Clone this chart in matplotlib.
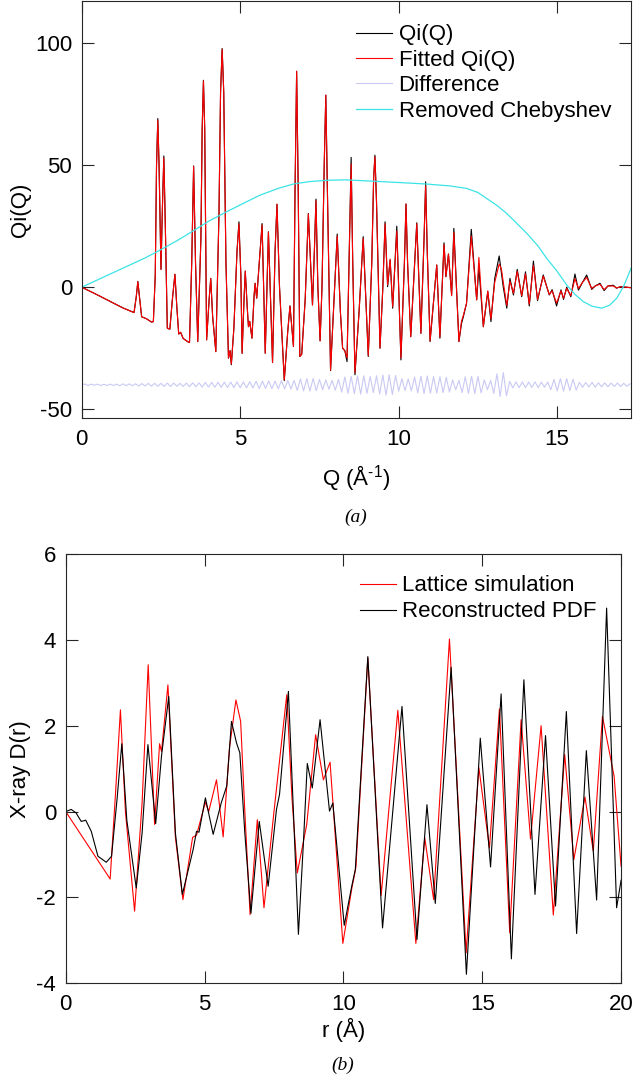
import numpy as np
import matplotlib.pyplot as plt

# ---------------- panel (a): Qi(Q) ----------------
q_pts = [0.00, 0.50, 1.00, 1.30, 1.65, 1.72, 1.77, 1.83, 1.89, 2.05,
         2.20, 2.26, 2.32, 2.36, 2.40, 2.44, 2.50, 2.55, 2.59, 2.63,
         2.70, 2.78, 2.86, 2.94, 3.00, 3.06, 3.12, 3.20, 3.34, 3.40,
         3.47, 3.53, 3.59, 3.66, 3.76, 3.80, 3.84, 3.88, 3.94, 4.02,
         4.07, 4.13, 4.23, 4.33, 4.38, 4.43, 4.48, 4.55, 4.63, 4.68,
         4.72, 4.80, 4.90, 4.96, 5.02, 5.06, 5.12, 5.16, 5.22, 5.26,
         5.30, 5.37, 5.44, 5.47, 5.52, 5.60, 5.69, 5.79, 5.89, 6.02,
         6.10, 6.16, 6.24, 6.39, 6.50, 6.57, 6.68, 6.73, 6.78, 6.83,
         6.88, 6.94, 7.05, 7.15, 7.28, 7.34, 7.39, 7.45, 7.52, 7.58,
         7.65, 7.70, 7.75, 7.85, 7.96, 8.06, 8.16, 8.23, 8.30, 8.37,
         8.45, 8.50, 8.55, 8.62, 8.75, 8.88, 9.04, 9.15, 9.21, 9.25,
         9.30, 9.41, 9.50, 9.57, 9.65, 9.73, 9.81, 9.94, 10.07, 10.18,
         10.23, 10.28, 10.38, 10.57, 10.70, 10.80, 10.85, 10.90, 10.99, 11.20,
         11.30, 11.43, 11.49, 11.57, 11.67, 11.74, 11.90, 11.98, 12.04, 12.14,
         12.29, 12.46, 12.53, 12.67, 12.81, 12.91, 13.03, 13.17, 13.24, 13.30,
         13.41, 13.51, 13.62, 13.74, 13.88, 14.00, 14.12, 14.25, 14.38, 14.56,
         14.75, 14.84, 14.98, 15.12, 15.20, 15.30, 15.43, 15.56, 15.67, 15.80,
         15.93, 16.09, 16.20, 16.35, 16.48, 16.60, 16.77, 16.87, 17.00, 17.33]

qi_obs = [0.0, -3.2, -6.5, -8.5, -10.4, -4.0, 2.3, -5.0, -12.1, -13.0,
          -14.3, -14.1, 5.0, 50.0, 69.1, 50.0, 7.3, 35.0, 53.8, 30.0,
          -16.8, -17.2, -5.0, 5.3, -8.0, -19.2, -18.5, -21.0, -22.3, -22.7,
          10.0, 49.7, 10.0, -22.3, 20.0, 65.0, 84.8, 65.0, -21.6, -5.0,
          3.6, -12.0, -26.4, 30.0, 80.0, 97.8, 80.0, 10.0, -29.1, -26.0,
          -31.8, -16.8, 15.0, 26.8, 5.0, -27.1, -5.0, 6.6, -8.0, -16.2,
          -14.0, -20.9, -3.0, 1.6, -4.5, 10.0, 26.1, -27.1, 22.7, -30.9,
          15.0, 34.0, 0.0, -38.3, -18.0, -7.7, -24.3, 40.0, 88.5, 40.0,
          -28.4, -27.5, -5.0, 30.2, -7.3, 15.0, 36.1, 0.0, -22.0, 0.0,
          50.0, 78.7, 40.0, -34.2, -5.0, 21.8, -10.0, -25.0, -26.0, -30.5,
          20.0, 53.2, 10.0, -35.9, -10.0, 20.7, -28.4, 10.0, 45.0, 54.1,
          35.0, -25.0, 0.0, 26.8, 0.2, 11.1, -8.6, 25.0, -29.8, 10.0,
          34.1, 10.0, -20.3, 26.4, -18.9, 20.0, 43.2, 15.0, -22.3, 9.1,
          -20.9, 18.2, 4.3, 13.6, -3.2, 24.1, -22.3, -15.0, -12.1, -6.6,
          23.7, -5.2, 8.0, -16.2, -1.8, -14.1, 3.6, 12.8, 6.0, 0.0,
          -8.6, 3.6, -3.2, 7.3, -3.9, 6.3, -7.7, 10.7, -5.5, 5.0,
          -3.2, -1.0, -7.7, -1.1, -5.0, 0.0, -3.9, 5.4, -1.2, 2.0,
          5.0, -0.9, 0.5, 1.6, -1.4, 0.5, 0.8, -0.4, 0.2, -0.2]

qi_fit = [0.0, -3.2, -6.5, -8.5, -10.4, -4.0, 2.3, -5.0, -12.1, -13.0,
          -14.3, -14.1, 5.0, 50.0, 68.5, 50.0, 7.3, 35.0, 53.0, 30.0,
          -16.8, -17.2, -5.0, 5.3, -8.0, -19.2, -18.5, -21.0, -22.3, -22.7,
          10.0, 49.5, 10.0, -22.3, 20.0, 65.0, 84.5, 65.0, -21.6, -5.0,
          3.6, -12.0, -26.4, 30.0, 80.0, 97.5, 80.0, 10.0, -29.1, -26.0,
          -31.5, -16.8, 15.0, 26.0, 5.0, -27.1, -5.0, 6.6, -8.0, -16.2,
          -14.0, -20.9, -3.0, 1.6, -4.5, 10.0, 25.5, -27.1, 22.7, -30.9,
          15.0, 34.0, 0.0, -38.0, -18.0, -7.7, -24.3, 40.0, 88.5, 40.0,
          -28.4, -27.5, -5.0, 30.0, -7.3, 15.0, 35.5, 0.0, -22.0, 0.0,
          50.0, 78.7, 40.0, -34.0, -5.0, 21.0, -10.0, -25.0, -26.0, -29.0,
          20.0, 50.5, 10.0, -35.0, -10.0, 20.0, -28.0, 10.0, 45.0, 53.5,
          35.0, -25.0, 0.0, 26.0, 1.0, 11.5, -8.0, 23.0, -29.0, 10.0,
          34.1, 10.0, -20.3, 26.0, -18.9, 20.0, 41.5, 15.0, -22.0, 9.1,
          -20.5, 17.5, 4.3, 13.6, -3.5, 22.5, -22.3, -14.0, -11.5, -6.6,
          21.0, -5.2, 12.2, -16.2, -1.5, -13.0, 2.0, 9.5, 7.5, 2.0,
          -7.5, 2.5, -2.5, 6.5, -3.5, 5.5, -7.0, 9.0, -5.0, 4.5,
          -3.0, -1.5, -6.5, -1.5, -4.5, -0.5, -3.5, 3.5, -0.5, 2.0,
          4.0, -0.5, 0.5, 1.2, -1.0, 0.5, 0.5, -0.3, 0.2, -0.2]

cheb_q = [0.0, 1.0, 2.0, 2.37, 3.0, 3.52, 4.0, 4.57, 5.2, 5.62,
          6.2, 6.68, 7.2, 7.73, 8.3, 9.25, 10.0, 10.85, 11.62, 12.14,
          12.5, 12.77, 13.1, 13.41, 13.7, 14.04, 14.4, 14.67, 15.0, 15.3,
          15.55, 15.82, 16.1, 16.4, 16.65, 16.88, 17.1, 17.33]
cheb_y = [0.0, 6.0, 12.0, 14.5, 19.0, 23.1, 27.0, 30.9, 35.0, 37.7,
          40.5, 42.3, 43.3, 43.8, 44.0, 43.4, 42.9, 42.3, 41.5, 40.5,
          38.8, 36.4, 33.5, 30.2, 26.5, 22.1, 16.8, 11.8, 6.5, 0.9,
          -2.8, -5.9, -7.8, -8.6, -7.4, -4.5, 0.5, 7.7]

# difference curve, sampled every 0.1 A^-1 from Q = 0
diff_step = 0.1
diff_y = [-40.0, -39.7, -40.3, -39.7, -40.2, -39.7, -40.3, -39.8, -40.3, -39.7,
          -40.3, -39.7, -40.4, -39.6, -40.4, -39.6, -40.4, -39.6, -40.5, -39.5,
          -40.5, -39.4, -40.6, -39.4, -40.6, -39.4, -40.7, -39.3, -40.7, -39.3,
          -40.6, -39.4, -40.7, -39.3, -40.8, -39.2, -40.8, -39.2, -40.9, -39.1,
          -40.9, -39.0, -41.0, -39.0, -41.1, -38.9, -41.1, -38.9, -41.2, -38.8,
          -41.2, -38.8, -41.3, -38.7, -41.3,
          -38.6, -41.5, -38.5, -41.5, -38.4, -41.6, -38.5, -41.6, -38.3, -41.7,
          -38.2, -41.8, -38.2,
          -42.3, -37.6, -42.5, -37.5, -42.6, -37.4, -42.4, -37.8,
          -42.0, -38.0, -41.8, -38.2, -42.2, -37.8,
          -43.0, -36.8, -43.5, -36.5, -43.6, -36.4, -43.8, -36.3, -43.5, -36.6, -43.2,
          -36.3, -43.8, -36.0, -44.2, -35.9, -44.0, -36.2,
          -42.6, -37.5, -42.4, -37.6, -42.5,
          -36.8, -43.3, -36.5, -43.6, -36.4, -43.5, -36.6, -43.4, -36.7, -43.2, -36.9, -43.0,
          -38.0, -42.0, -38.2,
          -43.2, -36.7, -43.5, -36.5, -43.6, -36.6, -43.3,
          -38.0, -42.0, -38.2,
          -43.5, -35.5, -44.8, -35.0, -44.5,
          -38.6, -41.3, -38.8, -41.2, -38.8, -41.2, -38.9, -41.1, -38.8, -41.2, -38.9, -41.0, -38.9,
          -42.0, -37.8, -42.5, -37.5, -42.6, -37.5, -42.4, -37.7, -42.2,
          -39.0, -41.0, -39.1, -40.9, -39.0, -41.0, -39.2, -40.8, -39.2, -40.8,
          -39.3, -40.7, -39.3, -40.7, -39.4, -40.6, -39.6]

# ---------------- panel (b): D(r) ----------------
r_sim = [0.00, 1.60, 1.80, 1.97, 2.15, 2.48, 2.75, 2.97, 3.20, 3.38,
         3.45, 3.68, 3.95, 4.22, 4.57, 4.71, 5.03, 5.15, 5.43, 5.67,
         5.90, 6.13, 6.30, 6.45, 6.64, 6.90, 7.14, 7.50, 7.96, 8.15,
         8.34, 8.68, 9.00, 9.28, 9.52, 9.98, 10.30, 10.45, 10.88, 11.36,
         11.96, 12.61, 12.93, 13.25, 13.82, 14.42, 14.88, 15.26, 15.62, 15.99,
         16.40, 16.74, 17.12, 17.56, 17.97, 18.30, 18.70, 19.00, 19.33, 19.75,
         20.00]
d_sim = [0.00, -1.57, 0.50, 2.37, 0.00, -2.32, 0.20, 3.42, -0.30, 1.58,
         1.40, 2.95, -0.60, -2.05, -0.60, -0.55, 0.22, 0.00, 0.74, -0.59,
         1.50, 2.60, 2.10, 0.00, -2.40, -0.19, -2.24, 0.00, 2.72, 0.30,
         -1.43, -0.30, 1.79, 0.74, 1.15, -3.07, -1.80, -1.30, 3.58, -1.95,
         2.36, -3.07, -0.61, -2.05, 4.02, -3.29, 1.02, -0.85, 2.39, -2.82,
         2.14, -0.64, 2.00, -2.41, 1.33, -1.12, 0.34, -0.92, 2.22, 0.82,
         -1.27]

r_pdf = [0.00, 0.20, 0.37, 0.56, 0.72, 0.92, 1.16, 1.46, 1.65, 1.85,
         2.02, 2.20, 2.54, 2.75, 2.96, 3.24, 3.45, 3.71, 3.95, 4.20,
         4.59, 4.71, 4.80, 5.03, 5.31, 5.60, 5.80, 5.97, 6.15, 6.27,
         6.45, 6.67, 6.97, 7.29, 7.59, 7.70, 8.02, 8.20, 8.38, 8.56,
         8.70, 8.88, 9.16, 9.50, 9.62, 10.03, 10.30, 10.43, 10.88, 11.41,
         12.11, 12.65, 13.01, 13.31, 13.88, 14.43, 14.93, 15.30, 15.68, 16.05,
         16.50, 16.90, 17.28, 17.64, 18.03, 18.40, 18.75, 19.12, 19.48, 19.84,
         20.00]
d_pdf = [0.00, 0.05, -0.03, -0.23, -0.20, -0.46, -1.04, -1.18, -1.04, 0.30,
         1.58, -0.20, -1.78, -0.50, 1.56, -0.28, 1.30, 2.68, -0.50, -1.93,
         -0.88, -0.46, -0.48, 0.32, -0.53, 0.20, 0.60, 2.10, 1.60, 1.37,
         -0.50, -2.37, -0.23, -1.74, 0.05, 0.40, 2.80, 0.00, -2.86, -0.73,
         1.12, 0.55, 2.14, 0.01, 0.20, -2.65, -1.74, -1.35, 3.61, -2.71,
         2.45, -2.98, 0.16, -2.14, 3.36, -3.79, 1.71, -1.29, 2.74, -3.43,
         3.07, -1.93, 1.77, -2.20, 2.33, -2.84, 1.42, -2.06, 4.74, -2.24,
         -1.60]

plt.rcParams['font.family'] = ['Liberation Sans', 'DejaVu Sans']
plt.rcParams['font.size'] = 16
plt.rcParams['axes.linewidth'] = 0.8
plt.rcParams['axes.unicode_minus'] = False
plt.rcParams['mathtext.fontset'] = 'custom'
plt.rcParams['mathtext.rm'] = 'Liberation Sans'
plt.rcParams['mathtext.it'] = 'Liberation Sans:italic'
plt.rcParams['mathtext.bf'] = 'Liberation Sans:bold'


def styleAxes(ax):
    ax.tick_params(direction='in', length=8.5, width=0.8, top=True, right=True,
                   labelsize=16, color='#262626')
    ax.tick_params(axis='x', pad=8)
    ax.tick_params(axis='y', pad=7)
    for s in ax.spines.values():
        s.set_color('#262626')


fig = plt.figure(figsize=(6.4, 10.82), dpi=100)

# panel (a)
ax1 = fig.add_axes([0.1277, 0.6137, 0.8583, 0.3854])
ax1.plot(q_pts, qi_obs, color='black', lw=0.8, label='Qi(Q)')
ax1.plot(q_pts, qi_fit, color='red', lw=0.8, label='Fitted Qi(Q)')
diff_q = np.arange(len(diff_y)) * diff_step
ax1.plot(diff_q, diff_y, color='#c9c9f4', lw=0.8, label='Difference')
ax1.plot(cheb_q, cheb_y, color='#3ce3e6', lw=0.9, label='Removed Chebyshev')
ax1.set_xlim(0, 17.33)
ax1.set_ylim(-53.6, 117.3)
ax1.set_xticks([0, 5, 10, 15])
ax1.set_yticks([-50, 0, 50, 100])
styleAxes(ax1)
ax1.set_xlabel('Q (Å$^{\\text{-1}}$)', fontsize=16)
ax1.xaxis.label.set_va('center')
ax1.xaxis.set_label_coords(0.5, -0.144)
ax1.set_ylabel('Qi(Q)', fontsize=16)
ax1.yaxis.label.set_va('center')
ax1.yaxis.set_label_coords(-0.112, 0.5)
ax1.legend(loc='upper left', bbox_to_anchor=(0.50, 0.944), frameon=False,
           fontsize=16, handlelength=1.6, handletextpad=0.3, labelspacing=0.2,
           borderpad=0, borderaxespad=0)

# panel (b)
ax2 = fig.add_axes([0.1027, 0.0912, 0.8677, 0.3968])
ax2.plot(r_sim, d_sim, color='red', lw=0.8, label='Lattice simulation')
ax2.plot(r_pdf, d_pdf, color='black', lw=0.8, label='Reconstructed PDF')
ax2.set_xlim(0, 20)
ax2.set_ylim(-4, 6)
ax2.set_xticks([0, 5, 10, 15, 20])
ax2.set_yticks([-4, -2, 0, 2, 4, 6])
styleAxes(ax2)
ax2.set_xlabel('r (Å)', fontsize=16)
ax2.xaxis.label.set_va('center')
ax2.xaxis.set_label_coords(0.5, -0.109)
ax2.set_ylabel('X-ray D(r)', fontsize=16)
ax2.yaxis.label.set_va('center')
ax2.yaxis.set_label_coords(-0.082, 0.5)
ax2.legend(loc='upper left', bbox_to_anchor=(0.53, 0.950), frameon=False,
           fontsize=16, handlelength=1.6, handletextpad=0.3, labelspacing=0.22,
           borderpad=0, borderaxespad=0)

fig.text(356 / 640, 1 - 517 / 1082, '(a)', ha='center', va='center',
         fontsize=14, family='Liberation Serif', style='italic')
fig.text(343 / 640, 1 - 1065 / 1082, '(b)', ha='center', va='center',
         fontsize=14, family='Liberation Serif', style='italic')

fig.savefig('out.png', dpi=100)
